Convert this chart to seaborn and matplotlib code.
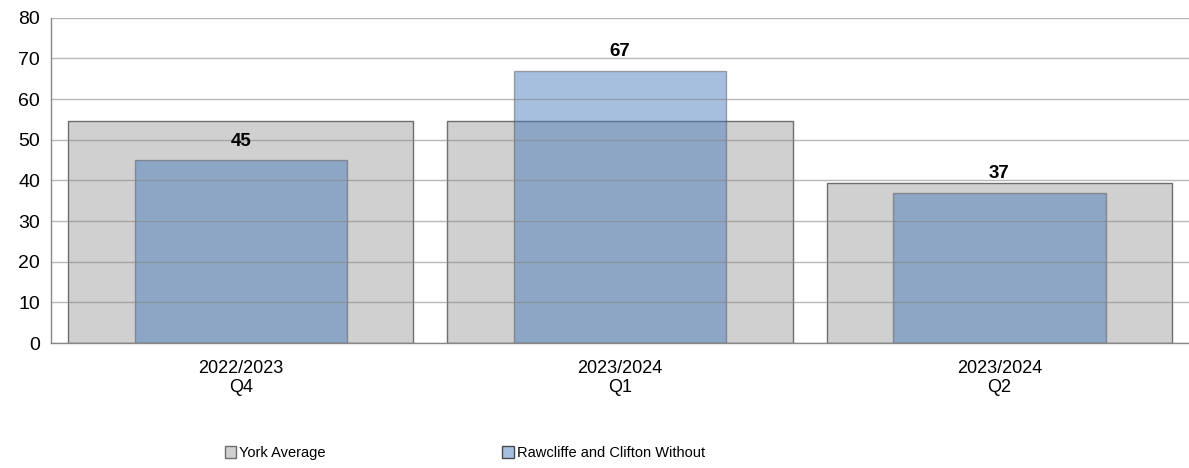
import matplotlib
matplotlib.use("Agg")
import matplotlib.pyplot as plt
import seaborn as sns
import numpy as np
from matplotlib.patches import Patch

categories = ["2022/2023\nQ4", "2023/2024\nQ1", "2023/2024\nQ2"]
york_avg = [54.5, 54.7, 39.4]
rawcliffe = [45, 67, 37]

sns.set_style("white")
plt.rcParams['font.family'] = ['Liberation Sans', 'DejaVu Sans']
plt.rcParams['text.color'] = 'black'
plt.rcParams['xtick.color'] = 'black'
plt.rcParams['ytick.color'] = 'black'

fig = plt.figure(figsize=(11.89, 4.68), dpi=100)
ax = fig.add_axes([0.043, 0.267, 0.957, 0.695])

grey = "#d0d0d0"
blue = "#4477bb"

sns.barplot(x=categories, y=york_avg, color=grey, saturation=1, width=0.91,
            edgecolor="#6e6e6e", linewidth=1, ax=ax)
sns.barplot(x=categories, y=rawcliffe, color=blue, saturation=1, width=0.56,
            alpha=0.47, edgecolor="#4a4a4a", linewidth=1, ax=ax)
# edges opaque-ish for blue bars
for p in ax.containers[1]:
    p.set_edgecolor((0.3, 0.3, 0.3, 0.8))

ax.bar_label(ax.containers[1], labels=[str(v) for v in rawcliffe], padding=7.5,
             fontsize=13.5, fontweight='bold')

ax.set_ylim(0, 80)
ax.set_xlim(-0.5, 2.5)
ax.set_yticks(np.arange(0, 81, 10))
ax.yaxis.grid(True, color="#888888", linewidth=1, alpha=0.6)
ax.set_axisbelow(False)

ax.tick_params(axis='y', labelsize=14, length=5, color="#888888", width=1, pad=3,
               labelcolor='black')
ax.tick_params(axis='x', which='major', labelsize=13, length=0, pad=12,
               labelcolor='black')
ax.set_xticks([0.5, 1.5], minor=True)
ax.tick_params(axis='x', which='minor', length=5, color="#888888", width=1)

for s in ["top", "right"]:
    ax.spines[s].set_visible(False)
for s in ["left", "bottom"]:
    ax.spines[s].set_color("#888888")
    ax.spines[s].set_linewidth(1)

handles = [Patch(facecolor=grey, edgecolor="#6e6e6e", label="York Average"),
           Patch(facecolor="#a7bfdf", edgecolor="#4a4a4a", label="Rawcliffe and Clifton Without")]
fig.legend(handles=handles, loc="center left", bbox_to_anchor=(0.178, 0.032), ncol=2,
           frameon=False, handlelength=0.8, handleheight=0.8,
           handletextpad=0.2, columnspacing=12.1, fontsize=10.5)

fig.savefig("out.png", dpi=100)
